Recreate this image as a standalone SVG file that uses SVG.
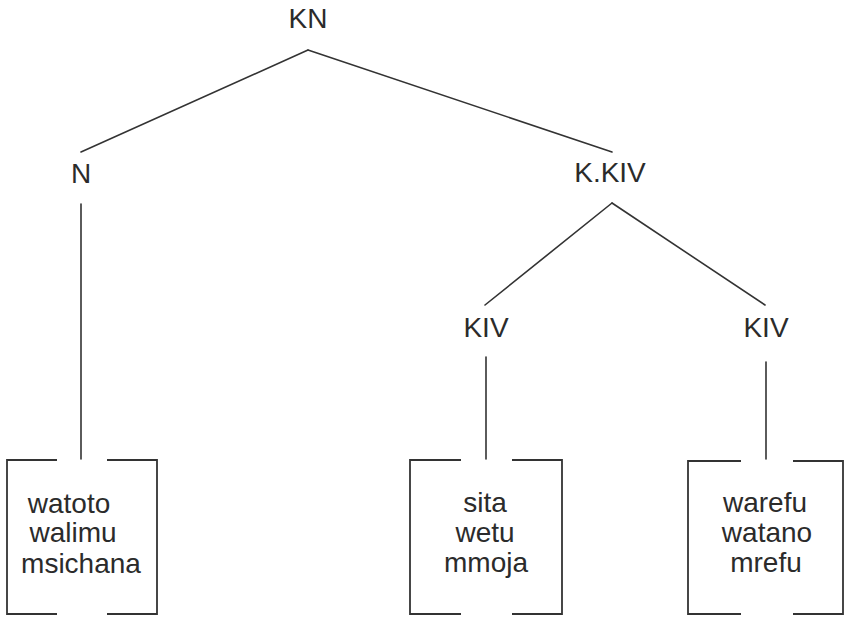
<svg xmlns="http://www.w3.org/2000/svg" width="849" height="618" viewBox="0 0 849 618">
  <style>
    text { font-family: "Liberation Sans", Arial, sans-serif; font-size: 28px; fill: #2b2b2b; text-anchor: middle; }
    .edge { stroke: #333; stroke-width: 1.6; fill: none; stroke-linecap: round; }
    .bracket { stroke: #333; stroke-width: 1.8; fill: none; }
  </style>
  <rect width="849" height="618" fill="#fff"/>

  <!-- tree branches -->
  <g id="connectors">
    <line class="edge" x1="308" y1="50" x2="81" y2="152"/>
    <line class="edge" x1="308" y1="50" x2="612" y2="152"/>
    <line class="edge" x1="81" y1="204" x2="81" y2="459"/>
    <line class="edge" x1="612" y1="203" x2="485" y2="305"/>
    <line class="edge" x1="612" y1="203" x2="765" y2="305"/>
    <line class="edge" x1="486" y1="357" x2="486" y2="459"/>
    <line class="edge" x1="766" y1="362" x2="766" y2="459"/>
  </g>

  <g id="kn"><text x="308" y="28">KN</text></g>
  <g id="n"><text x="81" y="183">N</text></g>
  <g id="kkiv"><text x="610" y="182">K.KIV</text></g>
  <g id="kiv-left"><text x="486" y="337">KIV</text></g>
  <g id="kiv-right"><text x="766" y="337">KIV</text></g>

  <!-- bracketed word lists -->
  <g id="list-n">
    <path class="bracket" d="M57 460 H7 V614 H57 M107 460 H157 V614 H107"/>
    <text x="69" y="513">watoto</text>
    <text x="73" y="542">walimu</text>
    <text x="81" y="573">msichana</text>
  </g>
  <g id="list-kiv-left">
    <path class="bracket" d="M461 460 H410 V614 H461 M512 460 H562 V614 H512"/>
    <text x="485" y="512">sita</text>
    <text x="485" y="542">wetu</text>
    <text x="486" y="572">mmoja</text>
  </g>
  <g id="list-kiv-right">
    <path class="bracket" d="M741 461 H688 V614 H741 M793 461 H843 V614 H793"/>
    <text x="765" y="512">warefu</text>
    <text x="767" y="542">watano</text>
    <text x="766" y="572">mrefu</text>
  </g>
</svg>
